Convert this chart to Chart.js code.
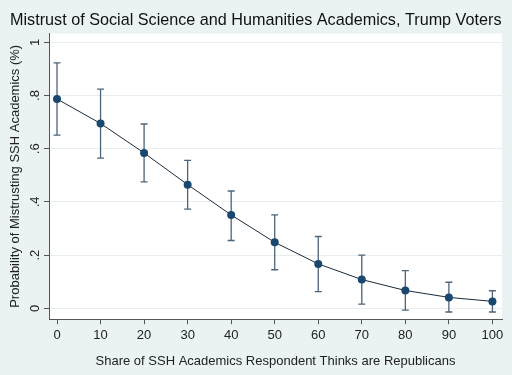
<!DOCTYPE html>
<html>
<head>
<meta charset="utf-8">
<script src="https://cdn.jsdelivr.net/npm/chart.js@4/dist/chart.umd.min.js"></script>
<style>
  html, body { margin: 0; padding: 0; background: #eaf2f3; }
  #wrap { width: 512px; height: 375px; position: relative; }
</style>
</head>
<body>
<div id="wrap"><canvas id="c" width="512" height="375"></canvas></div>
<script>
const titleText = "Mistrust of Social Science and Humanities Academics, Trump Voters";
const xTitle = "Share of SSH Academics Respondent Thinks are Republicans";
const yTitle = "Probability of Mistrusting SSH Academics (%)";
const shares = [0, 10, 20, 30, 40, 50, 60, 70, 80, 90, 100];
const prob  = [0.787, 0.695, 0.584, 0.465, 0.351, 0.248, 0.167, 0.108, 0.067, 0.041, 0.026];
const upper = [0.923, 0.824, 0.693, 0.556, 0.441, 0.351, 0.270, 0.200, 0.142, 0.098, 0.066];
const lower = [0.651, 0.565, 0.475, 0.373, 0.255, 0.145, 0.063, 0.016, -0.007, -0.014, -0.014];
const yTickValues = [0, 0.2, 0.4, 0.6, 0.8, 1];
const yTickLabels = ["0", ".2", ".4", ".6", ".8", "1"];
const xTickValues = [0, 10, 20, 30, 40, 50, 60, 70, 80, 90, 100];

const FONT = "'Liberation Sans', Arial, sans-serif";

const bgPlugin = {
  id: 'bg',
  beforeDraw(chart) {
    const { ctx, chartArea: a } = chart;
    ctx.save();
    ctx.fillStyle = '#eaf2f3';
    ctx.fillRect(0, 0, chart.width, chart.height);
    ctx.fillStyle = '#ffffff';
    ctx.fillRect(a.left, a.top, a.right - a.left, a.bottom - a.top);
    ctx.restore();
  }
};

const errPlugin = {
  id: 'errbars',
  beforeDatasetsDraw(chart) {
    const { ctx, scales: { x, y } } = chart;
    ctx.save();
    ctx.strokeStyle = '#4d6479';
    ctx.lineWidth = 1.3;
    for (let i = 0; i < shares.length; i++) {
      const px = x.getPixelForValue(shares[i]);
      const pu = y.getPixelForValue(upper[i]);
      const pl = y.getPixelForValue(lower[i]);
      ctx.beginPath();
      ctx.moveTo(px, pu); ctx.lineTo(px, pl);
      ctx.moveTo(px - 3.5, pu); ctx.lineTo(px + 3.5, pu);
      ctx.moveTo(px - 3.5, pl); ctx.lineTo(px + 3.5, pl);
      ctx.stroke();
    }
    ctx.restore();
  }
};

const yLabelPlugin = {
  id: 'ylabels',
  afterDraw(chart) {
    const { ctx, scales: { y }, chartArea: a } = chart;
    ctx.save();
    ctx.fillStyle = '#222';
    ctx.font = '13px ' + FONT;
    ctx.textAlign = 'center';
    ctx.textBaseline = 'middle';
    yTickValues.forEach((v, i) => {
      const py = y.getPixelForValue(v);
      ctx.save();
      ctx.translate(a.left - 14, py);
      ctx.rotate(-Math.PI / 2);
      ctx.fillText(yTickLabels[i], 0, 0);
      ctx.restore();
    });
    ctx.restore();
  }
};

new Chart(document.getElementById('c'), {
  type: 'line',
  data: {
    datasets: [{
      data: shares.map((s, i) => ({ x: s, y: prob[i] })),
      borderColor: '#1b2b3d',
      borderWidth: 1,
      backgroundColor: '#1a476f',
      pointBackgroundColor: '#1a476f',
      pointBorderColor: '#1a476f',
      pointRadius: 4,
      pointBorderWidth: 0,
      tension: 0
    }]
  },
  options: {
    responsive: false,
    animation: false,
    layout: { padding: { left: 10, right: 10, top: 0, bottom: 6 } },
    plugins: {
      legend: { display: false },
      tooltip: { enabled: false },
      title: {
        display: true,
        text: titleText,
        color: '#111',
        align: 'start',
        font: { family: FONT, size: 16.2, weight: 'normal' },
        padding: { top: 11, bottom: 3 }
      }
    },
    scales: {
      x: {
        type: 'linear',
        min: -1.84,
        max: 102.2,
        afterBuildTicks(scale) { scale.ticks = xTickValues.map(v => ({ value: v })); },
        ticks: {
          color: '#222',
          font: { family: FONT, size: 13 },
          padding: 3,
          maxRotation: 0,
          callback: v => String(v)
        },
        grid: { display: true, drawOnChartArea: false, drawTicks: true, tickLength: 5, tickColor: '#555' },
        border: { display: true, color: '#555', width: 1 },
        title: {
          display: true,
          text: xTitle,
          color: '#222',
          font: { family: FONT, size: 13 },
          padding: { top: 7.6, bottom: 0 }
        }
      },
      y: {
        type: 'linear',
        min: -0.041,
        max: 1.0335,
        afterBuildTicks(scale) { scale.ticks = yTickValues.map(v => ({ value: v })); },
        ticks: { display: false },
        grid: { display: true, color: '#e6eef0', lineWidth: 1, drawTicks: true, tickLength: 5, tickColor: '#555' },
        border: { display: true, color: '#555', width: 1 },
        title: {
          display: true,
          text: yTitle,
          color: '#222',
          font: { family: FONT, size: 13 },
          padding: { top: -2.8, bottom: 21.2 }
        }
      }
    }
  },
  plugins: [bgPlugin, errPlugin, yLabelPlugin]
});
</script>
</body>
</html>
